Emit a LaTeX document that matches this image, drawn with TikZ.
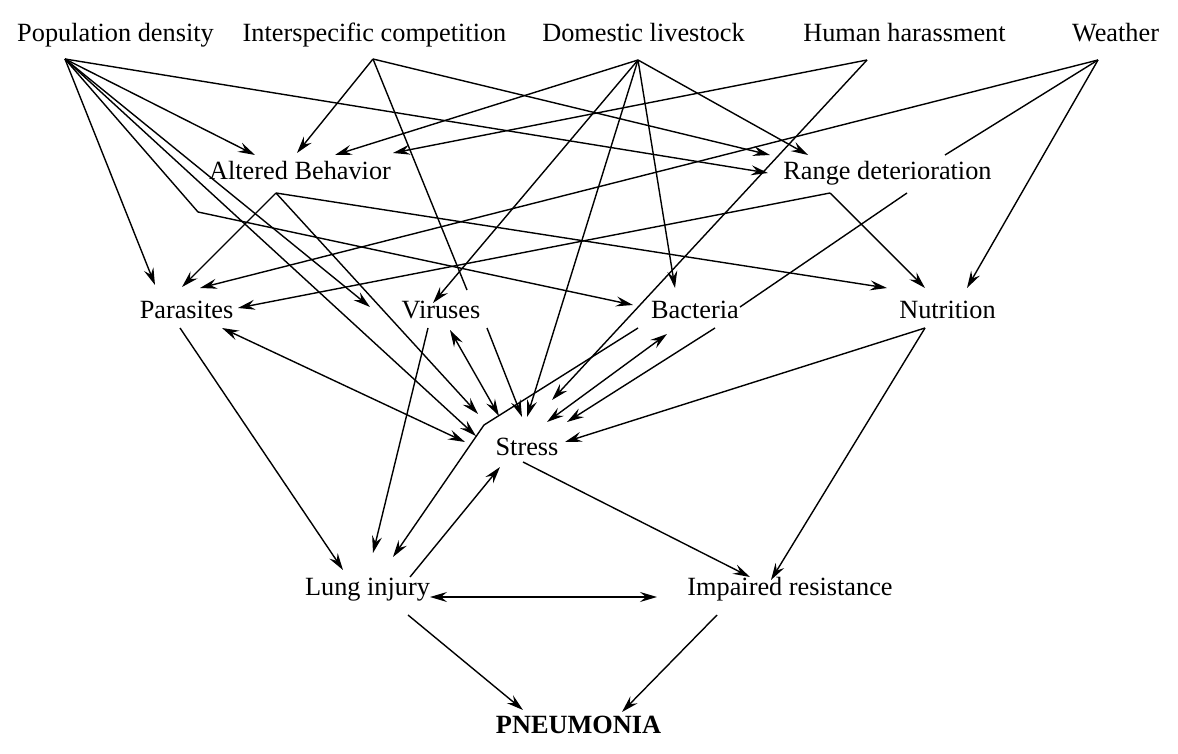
\documentclass[tikz,border=0pt]{standalone}
\usepackage{fontspec}
\setmainfont{Liberation Serif}
\usetikzlibrary{arrows.meta}
\begin{document}
\begin{tikzpicture}[x=1pt,y=-1pt,
  lbl/.style={font=\fontsize{26.3}{30}\selectfont, anchor=base, inner sep=0pt},
  tip/.tip={Stealth[length=17pt,width=10pt,inset=6pt]},
  ln/.style={line width=1.4pt},
  arr/.style={ln,-tip},
  dbl/.style={ln,tip-tip}]
\useasboundingbox (0,0) rectangle (1178,754);
% labels
\node[lbl] (pd) at (115.5,42) {Population density};
\node[lbl] (ic) at (374.5,42) {Interspecific competition};
\node[lbl] (dl) at (643.5,42) {Domestic livestock};
\node[lbl] (hh) at (904.5,42) {Human harassment};
\node[lbl] (we) at (1115.5,42) {Weather};
\node[lbl] (ab) at (300,180) {Altered Behavior};
\node[lbl] (rd) at (887.5,180) {Range deterioration};
\node[lbl] (pa) at (186.5,318) {Parasites};
\node[lbl] (vi) at (441,318) {Viruses};
\node[lbl] (ba) at (695,318) {Bacteria};
\node[lbl] (nu) at (947.5,318) {Nutrition};
\node[lbl] (st) at (527,455) {Stress};
\node[lbl] (lu) at (367.5,595) {Lung injury};
\node[lbl] (ir) at (790,595) {Impaired resistance};
\node[lbl,font=\fontsize{26.3}{30}\selectfont\bfseries] (pn) at (578.5,733) {PNEUMONIA};
% ports
\coordinate (pdo) at (65,59);
\coordinate (ico) at (373,59);
\coordinate (dlo) at (638,60);
\coordinate (hho) at (867,60);
\coordinate (weo) at (1098,60);
\coordinate (abo) at (276,193);
\coordinate (rdo) at (830,193);
\coordinate (nuo) at (925,328);
% Population density
\draw[arr] (pdo) -- (255,155);
\draw[arr] (pdo) -- (768,173);
\draw[arr] (pdo) -- (155,285);
\draw[arr] (pdo) -- (370,307);
\draw[arr] (pdo) -- (198,212) -- (633,305);
\draw[arr] (pdo) -- (476,436);
% Interspecific competition
\draw[arr] (ico) -- (297,153);
\draw[arr] (ico) -- (770,155);
\draw[ln] (ico) -- (467,290);
\draw[arr] (487,328) -- (522,417);
% Domestic livestock
\draw[arr] (dlo) -- (335,155);
\draw[arr] (dlo) -- (808,155);
\draw[arr] (dlo) -- (433,303);
\draw[arr] (dlo) -- (675,288);
\draw[arr] (dlo) -- (527,417);
% Human harassment
\draw[arr] (hho) -- (393,153);
\draw[arr] (hho) -- (552,400);
% Weather
\draw[arr] (weo) -- (200,288);
\draw[arr] (weo) -- (967,288);
\draw[ln] (weo) -- (945,155);
\draw[ln] (907,193) -- (740,307);
\draw[arr] (715,328) -- (567,422);
% Altered Behavior
\draw[arr] (abo) -- (182,287);
\draw[arr] (abo) -- (887,288);
\draw[arr] (abo) -- (478,414);
% Range deterioration
\draw[arr] (rdo) -- (238,308);
\draw[arr] (rdo) -- (925,288);
% Parasites
\draw[arr] (180,328) -- (343,570);
\draw[dbl] (222,328) -- (465,442);
% Viruses
\draw[arr] (428,328) -- (373,553);
\draw[dbl] (450,330) -- (499,416);
% Bacteria
\draw[dbl] (667,334) -- (547,422);
\draw[arr] (638,328) -- (484,425) -- (393,557);
% Nutrition
\draw[arr] (nuo) -- (565,442);
\draw[arr] (nuo) -- (771,580);
% Stress, Lung injury, Impaired resistance
\draw[arr] (523,462) -- (750,577);
\draw[arr] (410,577) -- (500,467);
\draw[dbl] (430,597) -- (657,597);
\draw[arr] (408,615) -- (523,710);
\draw[arr] (717,615) -- (622,712);
\end{tikzpicture}
\end{document}
